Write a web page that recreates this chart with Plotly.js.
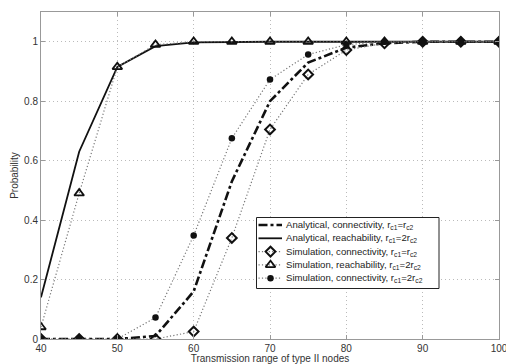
<!DOCTYPE html>
<html>
<head>
<meta charset="utf-8">
<script src="https://cdn.plot.ly/plotly-3.0.1.min.js"></script>
<style>html,body{margin:0;padding:0;background:#fff;}#chart{width:506px;height:364px;}</style>
</head>
<body>
<div id="chart"></div>
<script>
var xRange = [40, 45, 50, 55, 60, 65, 70, 75, 80, 85, 90, 95, 100];
var analyticalConnectivity = [0, 0, 0, 0.01, 0.16, 0.53, 0.80, 0.93, 0.98, 0.995, 1, 1, 1];
var analyticalReachability = [0.14, 0.63, 0.915, 0.985, 0.998, 1, 1, 1, 1, 1, 1, 1, 1];
var simConnectivityEqual = [0, 0, 0, 0, 0.025, 0.34, 0.705, 0.89, 0.972, 0.995, 1, 1, 1];
var simReachability = [0.04, 0.49, 0.915, 0.99, 1, 1, 1, 1, 1, 1, 1, 1, 1];
var simConnectivityDouble = [0, 0, 0, 0.072, 0.348, 0.675, 0.873, 0.957, 0.99, 1, 1, 1, 1];
var seriesNames = [
  'Analytical, connectivity, r<sub>c1</sub>=r<sub>c2</sub>',
  'Analytical, reachability, r<sub>c1</sub>=2r<sub>c2</sub>',
  'Simulation, connectivity, r<sub>c1</sub>=r<sub>c2</sub>',
  'Simulation, reachability, r<sub>c1</sub>=2r<sub>c2</sub>',
  'Simulation, connectivity, r<sub>c1</sub>=2r<sub>c2</sub>'
];
var xTicks = [40, 50, 60, 70, 80, 90, 100];
var yTicks = [0, 0.2, 0.4, 0.6, 0.8, 1];
var yTickLabels = ['0', '0.2', '0.4', '0.6', '0.8', '1'];
var xLim = [40, 100], yLim = [0, 1.1];

// plot-area geometry (pixels) used to place the hand-built legend box
var M = {l: 41, r: 7, t: 12, b: 25};
var W = 506, H = 364;
var pw = W - M.l - M.r, ph = H - M.t - M.b;
function px(x) { return (x - M.l) / pw; }
function py(y) { return (H - M.b - y) / ph; }
function dx(x) { return xLim[0] + px(x) * (xLim[1] - xLim[0]); }
function dy(y) { return yLim[0] + py(y) * (yLim[1] - yLim[0]); }

var FONT = 'Liberation Sans, Arial, sans-serif';
var dotLine = {color: '#777', width: 1.2, dash: '1.2px,2.2px'};
var lineStyles = [
  {color: '#111', width: 2.6, dash: 'dashdot'},
  {color: '#111', width: 1.8, dash: 'solid'},
  dotLine, dotLine, dotLine
];
var markerStyles = [
  null, null,
  {symbol: 'diamond-open', size: 7.5, color: '#111', line: {width: 2, color: '#111'}},
  {symbol: 'triangle-up-open', size: 8.5, color: '#111', line: {width: 1.8, color: '#111'}},
  {symbol: 'circle', size: 6.5, color: '#111'}
];
var seriesData = [analyticalConnectivity, analyticalReachability, simConnectivityEqual, simReachability, simConnectivityDouble];

var traces = seriesData.map(function (ys, i) {
  var t = {x: xRange, y: ys, name: seriesNames[i], mode: markerStyles[i] ? 'lines+markers' : 'lines',
           line: lineStyles[i], showlegend: false};
  if (markerStyles[i]) t.marker = markerStyles[i];
  return t;
});

// legend built from shapes + annotations (compact MATLAB-like spacing)
var legBox = {x0: 256.5, x1: 439, y0: 217.5, y1: 288.5};
var rowY = [225, 238.3, 251.6, 264.9, 278.2];
var sampleX0 = 258.5, sampleX1 = 282, markX = 270.5, textX = 285;
var shapes = [{
  type: 'rect', xref: 'x', yref: 'y', layer: 'between',
  x0: dx(legBox.x0), x1: dx(legBox.x1), y0: dy(legBox.y1), y1: dy(legBox.y0),
  fillcolor: '#fff', line: {color: '#222', width: 1}
}];
var annotations = [];
for (var i = 0; i < seriesNames.length; i++) {
  var ls = lineStyles[i];
  shapes.push({type: 'line', xref: 'x', yref: 'y', layer: 'between',
    x0: dx(sampleX0), x1: dx(sampleX1), y0: dy(rowY[i]), y1: dy(rowY[i]),
    line: {color: ls.color, width: ls.width, dash: ls.dash}});
  if (markerStyles[i]) {
    // legend key marker on an overlay axis measured in plot pixels
    traces.push({x: [markX - M.l], y: [H - M.b - rowY[i]], xaxis: 'x2', yaxis: 'y2',
      mode: 'markers', marker: markerStyles[i], showlegend: false, hoverinfo: 'skip'});
  }
  annotations.push({xref: 'paper', yref: 'paper', x: px(textX), y: py(rowY[i]),
    xanchor: 'left', yanchor: 'middle', showarrow: false, text: seriesNames[i],
    font: {family: FONT, size: 9.6, color: '#222'}, borderpad: 0});
}

var axisCommon = {
  showline: true, mirror: 'ticks', linecolor: '#999', linewidth: 1,
  ticks: 'inside', ticklen: 4, tickcolor: '#999',
  showgrid: true, gridcolor: '#bbb', griddash: '1px,3px', gridwidth: 1,
  zeroline: false, ticklabeloverflow: 'allow',
  tickfont: {family: FONT, size: 10, color: '#333'}
};

var layout = {
  width: W, height: H,
  margin: M,
  paper_bgcolor: '#fff', plot_bgcolor: '#fff',
  showlegend: false,
  font: {family: FONT, color: '#222'},
  xaxis: Object.assign({}, axisCommon, {
    range: xLim, tickvals: xTicks, ticktext: xTicks.map(String),
    title: {text: 'Transmission range of type II nodes', font: {size: 10, color: '#333'}, standoff: 2}
  }),
  yaxis: Object.assign({}, axisCommon, {
    range: yLim, tickvals: yTicks, ticktext: yTickLabels,
    title: {text: 'Probability', font: {size: 10, color: '#333'}, standoff: 3}
  }),
  xaxis2: {overlaying: 'x', range: [0, pw], visible: false, fixedrange: true},
  yaxis2: {overlaying: 'y', range: [0, ph], visible: false, fixedrange: true},
  shapes: shapes,
  annotations: annotations
};

Plotly.newPlot('chart', traces, layout, {displayModeBar: false, staticPlot: true});
</script>
</body>
</html>
